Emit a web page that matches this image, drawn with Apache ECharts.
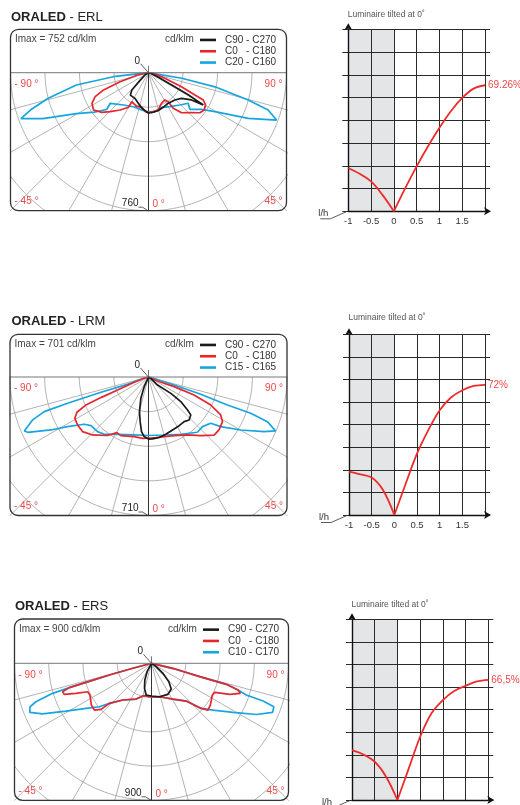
<!DOCTYPE html>
<html><head><meta charset="utf-8">
<script src="https://cdn.jsdelivr.net/npm/echarts@6/dist/echarts.min.js"></script>
<style>html,body{margin:0;padding:0;background:#fff}#c{width:520px;height:805px}</style>
</head><body><div id="c"></div>
<script>
// ---------------- DATA ----------------
const productName = 'ORALED';
const opticNames = ['ERL', 'LRM', 'ERS'];
const imaxValues = [752, 701, 900];
const scaleMaxValues = [760, 710, 900];
const unitLabel = 'cd/klm';
const curveNames = [
  ['C90 - C270', 'C0   - C180', 'C20 - C160'],
  ['C90 - C270', 'C0   - C180', 'C15 - C165'],
  ['C90 - C270', 'C0   - C180', 'C10 - C170']
];
const angleLabels = ['- 90 °', '90 °', '- 45 °', '45 °', '0 °'];

// photometric curves: [gamma (deg), intensity (cd/klm)]
const erlC90 = [[-90,0],[-60,20],[-48,61],[-44,132],[-39,159],[-28,160],[-18,178],[-10,200],[-3,215],[0,222],[4,221],[14,216],[23,207],[33,200],[44,209],[52,230],[57.6,280],[59.4,350],[61,250],[62,150],[65,60],[75,15],[90,0]];
const erlC0 = [[-90,0],[-78,60],[-72.4,164],[-69,265],[-65.8,322],[-61.6,354],[-55.8,366],[-49.6,337],[-44.5,301],[-37.2,258],[-30,220],[-29.8,184],[-20.3,196],[-10.8,194],[-4.8,215],[0,220],[6.9,216],[14.6,212],[23,183],[31,175],[34.2,193],[34.8,239],[39.5,286],[46,317],[52.1,359],[56.2,369],[60.5,361],[63.5,337],[64.3,284],[67,197],[71,95],[80,30],[90,0]];
const erlC20 = [[-90,0],[-83.5,195],[-80.3,403],[-75.6,573],[-72.5,680],[-70.2,747],[-69.3,741],[-66.5,635],[-60.4,457],[-54,370],[-48.7,307],[-51.4,270],[-37.7,225],[-23.8,205],[-12.8,207],[-2.3,215],[0,224],[9.3,218],[20.6,204],[32.2,221],[44.2,248],[52.4,276],[48.5,304],[55.4,355],[59.6,424],[65.4,604],[69.7,752],[70.2,740],[72.7,690],[74.7,569],[78,374],[80.5,186],[90,0]];

const lrmC90 = [[-90,0],[-40,10],[-24,54],[-19.8,116],[-14.6,183],[-10.6,233],[-7.3,282],[-4.2,306],[0,318],[3.7,318],[10,315],[16.8,307],[24.4,298],[32.2,295],[38.6,293],[43.4,303],[48.1,291],[49.8,262],[52.7,208],[53.8,142],[48.4,62],[60,10],[90,0]];
const lrmC0 = [[-90,0],[-75,20],[-69.6,78],[-67.2,172],[-66.6,266],[-65.9,351],[-63.8,409],[-60.7,433],[-55.9,439],[-50.4,439],[-44,413],[-35,366],[-29.6,328],[-25.2,332],[-13.5,314],[-5.6,316],[0,314],[6.9,313],[14.7,316],[23.6,328],[33.9,358],[41.7,403],[48.5,449],[53.1,452],[58.9,443],[62.3,418],[65.8,350],[68.5,251],[69.4,140],[66,50],[90,0]];
const lrmC15 = [[-90,0],[-75,30],[-70.7,114],[-72.2,256],[-72,436],[-71.6,563],[-69.7,633],[-66.5,694],[-65.4,681],[-61.5,569],[-58.5,487],[-53.7,409],[-49.8,386],[-43,383],[-37.7,371],[-28.4,334],[-13.9,306],[0,300],[15.1,308],[29.4,337],[41.5,378],[47.4,376],[53.4,398],[55.5,449],[60.1,545],[64.7,655],[67,708],[69.4,651],[70.5,556],[70.5,429],[71.7,282],[72.7,138],[75,30],[90,0]];

const ersC90 = [[-90,0],[-40,15],[-27.5,62],[-21.8,118],[-15.6,171],[-9.6,211],[0,215],[13.5,226],[27.8,231],[37.5,213],[43.4,166],[48.6,100],[54.5,38],[90,0]];
const ersC0 = [[-90,0],[-75,127],[-74.5,287],[-73.8,448],[-73.5,563],[-72.3,613],[-70.4,608],[-68.3,534],[-66,459],[-62.7,455],[-55.2,481],[-50.7,485],[-47.6,449],[-46.4,382],[-38,306],[-23.3,256],[-13.9,219],[0,220],[13.5,226],[30.9,274],[42.6,337],[47.8,441],[50.4,482],[54.6,474],[62.4,451],[65.3,457],[68.3,553],[71.3,616],[72.8,595],[74.3,511],[74.5,328],[76.8,144],[90,0]];
const ersC10 = [[-90,0],[-75,127],[-74.5,287],[-73.8,448],[-73.5,563],[-73.1,679],[-71.6,800],[-70.3,848],[-68,862],[-65.1,789],[-60.8,644],[-55.4,522],[-50.2,446],[-46.4,382],[-38,306],[-23.3,256],[-13.9,219],[0,220],[13.5,226],[30.9,274],[42.6,337],[47.8,441],[48.3,452],[52.7,508],[59,625],[64,767],[67.9,858],[70.4,853],[71.3,774],[71.5,657],[72.8,595],[74.3,511],[74.5,328],[76.8,144],[90,0]];

const polarCurves = [[erlC90, erlC0, erlC20], [lrmC90, lrmC0, lrmC15], [ersC90, ersC0, ersC10]];

// utilisation factor curves (l/h -> %)
const ufLeftX = [-1, -0.75, -0.5, -0.25, 0];
const ufRightX = [0, 0.25, 0.5, 0.75, 1, 1.25, 1.5, 1.75, 2];
const erlUfLeft = [23.8, 20.6, 16.4, 9.0, 0];
const erlUfRight = [0, 12.7, 24.7, 35.7, 45.9, 55, 62.3, 67.4, 69.26];
const lrmUfLeft = [24, 22.5, 20.7, 13.8, 0];
const lrmUfRight = [0, 17.3, 34, 47, 58, 65, 69, 71.4, 72];
const ersUfLeft = [27.6, 25.2, 21.2, 12.9, 0];
const ersUfRight = [0, 17.5, 35, 48, 55.3, 60.3, 63.2, 65.6, 66.5];
const ufLeftSets = [erlUfLeft, lrmUfLeft, ersUfLeft];
const ufRightSets = [erlUfRight, lrmUfRight, ersUfRight];
const ufEndLabels = ['69.26%', '72%', '66,5%'];
const ufTickLabels = [-1, -0.5, 0, 0.5, 1, 1.5];
const ufTitle = 'Luminaire tilted at 0˚';
const ufAxisName = 'l/h';

// ---------------- LAYOUT ----------------
const FONT = '"Liberation Sans", Arial, Helvetica, sans-serif';
const RED = '#e5262d', BLUE = '#17a5e0', BLACK = '#1a1a1a', LRED = '#ee4747';
const curveColors = [BLACK, RED, BLUE];
const polarLayout = [
  {cx: 148.5, cy: 72.7, R: 138, boxTop: 29.3, titleX: 11, titleY: 17.5},
  {cx: 148.5, cy: 377, R: 138.5, boxTop: 334.3, titleX: 11.5, titleY: 321.7},
  {cx: 151.5, cy: 663.3, R: 137, boxTop: 619, titleX: 15, titleY: 606.7}
];
const ufLayout = [
  {left: 348.3, right: 485, top: 29.3, bottom: 211.3, labelY: 14.7},
  {left: 349, right: 485, top: 334.3, bottom: 515, labelY: 317.3},
  {left: 352, right: 488.3, top: 619.3, bottom: 800, labelY: 604.3}
];

const grid = [], xAxis = [], yAxis = [], series = [], legend = [], graphic = [];
const rad = d => d * Math.PI / 180;
const toXY = arr => arr.map(([g, v]) => [v * Math.sin(rad(g)), -v * Math.cos(rad(g))]);
const txt = (x, y, text, o = {}) => ({
  type: 'text', x, y, z: 20, silent: true,
  style: Object.assign({text, fontSize: 10, fontFamily: FONT, fill: '#333', verticalAlign: 'middle', align: 'left'}, o)
});

for (let i = 0; i < 3; i++) {
  const P = polarLayout[i], S = scaleMaxValues[i];
  // ---- polar diagram (cartesian projection) ----
  const gi = grid.length;
  grid.push({left: P.cx - P.R, top: P.cy, width: 2 * P.R, height: P.R, outerBoundsMode: 'none', containLabel: false});
  xAxis.push({gridIndex: gi, type: 'value', min: -S, max: S, show: false});
  yAxis.push({gridIndex: gi, type: 'value', min: -S, max: 0, show: false});
  const xi = xAxis.length - 1, yi = yAxis.length - 1;
  const base = {type: 'line', xAxisIndex: xi, yAxisIndex: yi, showSymbol: false, silent: true, clip: true};
  for (let k = 1; k <= 5; k++) {
    const r = k * S / 4, pts = [];
    for (let a = -90; a <= 90; a += 2) pts.push([r * Math.sin(rad(a)), -r * Math.cos(rad(a))]);
    series.push(Object.assign({}, base, {data: pts, z: 1, lineStyle: {color: '#a0a0a0', width: 0.8}}));
  }
  for (let a = -75; a <= 75; a += 15) {
    const L = S * 1.6;
    series.push(Object.assign({}, base, {data: [[0, 0], [L * Math.sin(rad(a)), -L * Math.cos(rad(a))]], z: a === 0 ? 2 : 1,
      lineStyle: {color: a === 0 ? '#333' : '#a0a0a0', width: a === 0 ? 1 : 0.8}}));
  }
  [2, 1, 0].forEach(c => {
    series.push(Object.assign({}, base, {name: curveNames[i][c], data: toXY(polarCurves[i][c]), z: 5 + (2 - c),
      color: curveColors[c], lineStyle: {color: curveColors[c], width: 1.7}}));
  });
  legend.push({orient: 'vertical', left: P.cx + 51.5, top: P.boxTop + 5, padding: 0, itemWidth: 16, itemHeight: 2.6, itemGap: 0,
    icon: 'rect', selectedMode: false, data: curveNames[i],
    textStyle: {fontSize: 10, fontFamily: FONT, color: '#333', lineHeight: 11.3, padding: [0, 0, 0, 4]}});

  // frame & text
  const bx = P.cx - P.R, bw = 2 * P.R, bh = P.cy + P.R - P.boxTop;
  graphic.push({type: 'rect', z: 15, silent: true, shape: {x: bx, y: P.boxTop, width: bw, height: bh, r: 8},
    style: {fill: 'none', stroke: '#333', lineWidth: 1.3}});
  graphic.push({type: 'line', z: 14, silent: true, shape: {x1: bx, y1: P.cy, x2: bx + bw, y2: P.cy}, style: {stroke: '#777', lineWidth: 1}});
  graphic.push({type: 'line', z: 14, silent: true, shape: {x1: P.cx, y1: P.cy - 7, x2: P.cx, y2: P.cy}, style: {stroke: '#555', lineWidth: 0.8}});
  graphic.push(txt(P.titleX, P.titleY, '{b|' + productName + '} - ' + opticNames[i],
    {fontSize: 13, fill: '#222', rich: {b: {fontSize: 13, fontWeight: 'bold', fontFamily: FONT, fill: '#222'}}}));
  graphic.push(txt(bx + 4.5, P.boxTop + 10, 'Imax = ' + imaxValues[i] + ' ' + unitLabel, {fill: '#444'}));
  graphic.push(txt(P.cx + 16.5, P.boxTop + 10, unitLabel, {fill: '#444'}));
  graphic.push(txt(bx + 4, P.cy + 11.6, angleLabels[0], {fill: LRED}));
  graphic.push(txt(bx + bw - 4, P.cy + 11.6, angleLabels[1], {fill: LRED, align: 'right'}));
  graphic.push(txt(bx + 4, P.cy + P.R - 9, angleLabels[2], {fill: LRED}));
  graphic.push(txt(bx + bw - 4, P.cy + P.R - 9, angleLabels[3], {fill: LRED, align: 'right'}));
  graphic.push(txt(P.cx + 4, P.cy + P.R - 6.5, angleLabels[4], {fill: LRED}));
  graphic.push(txt(P.cx - 10, P.cy + P.R - 7.5, String(S), {fill: '#222', align: 'right'}));
  graphic.push({type: 'polyline', z: 14, silent: true, shape: {points: [[P.cx - 10, P.cy + P.R - 3.5], [P.cx - 6, P.cy + P.R - 3.5], [P.cx - 0.5, P.cy + P.R]]},
    style: {stroke: '#333', lineWidth: 0.8, fill: 'none'}});
  graphic.push(txt(P.cx - 8.5, P.cy - 11.7, '0', {fill: '#222', align: 'right'}));
  graphic.push({type: 'line', z: 14, silent: true, shape: {x1: P.cx - 8, y1: P.cy - 9, x2: P.cx - 0.5, y2: P.cy - 0.5}, style: {stroke: '#333', lineWidth: 0.8}});

  // ---- utilisation factor chart ----
  const U = ufLayout[i];
  const gu = grid.length;
  grid.push({left: U.left, top: U.top, width: U.right - U.left, height: U.bottom - U.top, outerBoundsMode: 'none', containLabel: false});
  xAxis.push({gridIndex: gu, type: 'value', min: -1, max: 2, interval: 0.5, z: 3,
    axisLine: {show: true, onZero: false, lineStyle: {color: '#111', width: 1.4}, symbol: ['none', 'arrow'], symbolSize: [6, 7], symbolOffset: [0, 6]},
    axisTick: {show: false},
    axisLabel: {fontSize: 9.5, fontFamily: FONT, color: '#333', margin: 5, formatter: v => ufTickLabels.includes(v) ? String(v) : ''},
    splitLine: {show: true, lineStyle: {color: '#2a2a2a', width: 1}}});
  const uxi = xAxis.length - 1;
  yAxis.push({gridIndex: gu, type: 'value', min: 0, max: 100, interval: 12.5, position: 'left', z: 3,
    axisLine: {show: true, onZero: false, lineStyle: {color: '#111', width: 1.4}, symbol: ['none', 'arrow'], symbolSize: [6, 7], symbolOffset: [0, 6]},
    axisTick: {show: true, length: 6, lineStyle: {color: '#2a2a2a'}},
    axisLabel: {show: false},
    splitLine: {show: true, lineStyle: {color: '#2a2a2a', width: 1}}});
  const uyi = yAxis.length - 1;
  yAxis.push({gridIndex: gu, type: 'value', min: 0, max: 100, interval: 12.5, position: 'right', z: 3,
    axisLine: {show: false, onZero: false}, axisTick: {show: true, length: 5, lineStyle: {color: '#2a2a2a'}},
    axisLabel: {show: false}, splitLine: {show: false}});
  series.push({type: 'line', xAxisIndex: uxi, yAxisIndex: uyi, data: [[-1, 0]], showSymbol: false, silent: true, z: 1,
    lineStyle: {width: 0}, markArea: {silent: true, itemStyle: {color: '#e4e5e7'}, data: [[{xAxis: -1, yAxis: 0}, {xAxis: 0, yAxis: 100}]]}});
  series.push({type: 'line', xAxisIndex: uxi, yAxisIndex: uyi, data: ufLeftX.map((x, j) => [x, ufLeftSets[i][j]]),
    smooth: 0.35, showSymbol: false, silent: true, z: 6, lineStyle: {color: '#ee2b2b', width: 1.8}});
  series.push({type: 'line', xAxisIndex: uxi, yAxisIndex: uyi, data: ufRightX.map((x, j) => [x, ufRightSets[i][j]]),
    smooth: 0.35, showSymbol: false, silent: true, z: 6, lineStyle: {color: '#ee2b2b', width: 1.8},
    endLabel: {show: true, formatter: ufEndLabels[i], color: LRED, fontSize: 10, fontFamily: FONT, distance: 3}});
  graphic.push(txt(U.left - 0.5, U.labelY, ufTitle, {fontSize: 8.5, fill: '#555'}));
  graphic.push(txt(U.left - 30, U.bottom + 2, ufAxisName, {fontSize: 9.5, fill: '#333'}));
  graphic.push({type: 'polyline', z: 14, silent: true, shape: {points: [[U.left - 28, U.bottom + 7.5], [U.left - 18, U.bottom + 7.5], [U.left - 2, U.bottom + 0.5]]},
    style: {stroke: '#333', lineWidth: 0.8, fill: 'none'}});
}

const chart = echarts.init(document.getElementById('c'));
chart.setOption({animation: false, backgroundColor: '#fff', grid, xAxis, yAxis, series, legend, graphic});
</script>
</body></html>
